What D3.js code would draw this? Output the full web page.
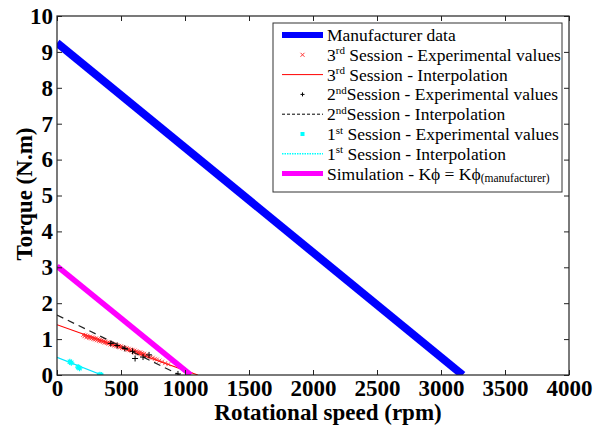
<!DOCTYPE html>
<html>
<head>
<meta charset="utf-8">
<script src="https://cdn.jsdelivr.net/npm/d3@7"></script>
<style>
  html, body { margin: 0; padding: 0; background: #fff; }
  svg { display: block; }
</style>
</head>
<body>
<svg id="chart" width="593" height="427"></svg>
<script>
// Torque vs. rotational speed: manufacturer line, simulation, and three test sessions.
const xTicks = [0, 500, 1000, 1500, 2000, 2500, 3000, 3500, 4000];
const yTicks = [0, 1, 2, 3, 4, 5, 6, 7, 8, 9, 10];

// straight characteristics as [rpm, torque] end points
const manufacturerLine = [[0, 9.25], [3170, 0]];
const simulationLine = [[0, 3.03], [1045, 0]];
const session3Fit = [[0, 1.40], [1100, 0]];
const session2Fit = [[0, 1.67], [960, 0]];
const session1Fit = [[0, 0.49], [350, 0]];

// measured points [rpm, torque]
const session3Points = [
  [205,1.12],[215,1.08],[222,1.11],[230,1.05],[238,1.09],[245,1.06],[252,1.03],[260,1.07],
  [268,1.02],[275,1.05],[283,1.00],[290,1.03],[298,0.99],[305,1.02],[312,0.97],[320,1.00],
  [328,0.95],[335,0.98],[342,0.94],[350,0.97],[358,0.92],[365,0.95],[372,0.90],[380,0.93],
  [388,0.89],[395,0.91],[402,0.87],[410,0.90],[418,0.85],[425,0.88],[432,0.84],[440,0.86],
  [448,0.82],[455,0.85],[462,0.80],[470,0.83],[478,0.79],[485,0.81],[492,0.77],[500,0.80],
  [508,0.75],[515,0.78],[522,0.74],[530,0.76],[538,0.72],[545,0.75],[552,0.70],[560,0.73],
  [568,0.69],[575,0.71],[582,0.67],[590,0.70],[598,0.65],[605,0.68],[612,0.63],[620,0.66],
  [628,0.62],[635,0.64],[642,0.60],[650,0.63],[658,0.58],[665,0.61],[672,0.57],[680,0.59],
  [690,0.55],[700,0.56],[715,0.52],[730,0.50],[748,0.48],[765,0.45],[780,0.43],[800,0.40],
  [820,0.37],[845,0.33],[870,0.30],[1010,0.02],[1040,0.01]
];
const session2Points = [
  [420,0.88],[470,0.82],[530,0.74],[590,0.66],[610,0.46],[672,0.50],[719,0.56],[945,0.03]
];
const session1Points = [
  [100,0.37],[112,0.34],[165,0.22],[176,0.19],[335,0.01],[345,0.00]
];

const legendItems = [
  { kind: "line", color: "#0000ff", width: 6, dash: null,
    label: [["Manufacturer data"]] },
  { kind: "x", color: "#ff3333",
    label: [["3"], ["rd", "sup"], [" Session - Experimental values"]] },
  { kind: "line", color: "#ff0000", width: 1, dash: null,
    label: [["3"], ["rd", "sup"], [" Session - Interpolation"]] },
  { kind: "plus", color: "#000000",
    label: [["2"], ["nd", "sup"], ["Session - Experimental values"]] },
  { kind: "line", color: "#000000", width: 1, dash: "3,2",
    label: [["2"], ["nd", "sup"], ["Session - Interpolation"]] },
  { kind: "square", color: "#00ffff",
    label: [["1"], ["st", "sup"], [" Session - Experimental values"]] },
  { kind: "line", color: "#00ffff", width: 1.5, dash: "1.5,1",
    label: [["1"], ["st", "sup"], [" Session - Interpolation"]] },
  { kind: "line", color: "#ff00ff", width: 5, dash: null,
    label: [["Simulation - K\u03d5 = K\u03d5"], ["(manufacturer)", "sub"]] }
];

const serif = "Liberation Serif";
const svg = d3.select("#chart");
const margin = { left: 57, right: 24, top: 16, bottom: 52 };
const W = 593, H = 427;

const x = d3.scaleLinear().domain([0, 4000]).range([margin.left, W - margin.right]);
const y = d3.scaleLinear().domain([0, 10]).range([H - margin.bottom, margin.top]);

svg.append("defs").append("clipPath").attr("id", "plotClip")
  .append("rect")
  .attr("x", x(0)).attr("y", y(10))
  .attr("width", x(4000) - x(0)).attr("height", y(0) - y(10));

const line = d3.line().x(d => x(d[0])).y(d => y(d[1]));
const plot = svg.append("g").attr("clip-path", "url(#plotClip)");

plot.append("path").datum(manufacturerLine).attr("d", line)
  .attr("fill", "none").attr("stroke", "#0000ff").attr("stroke-width", 8);

plot.append("path").datum(session1Fit).attr("d", line)
  .attr("fill", "none").attr("stroke", "#00e5ff").attr("stroke-width", 1.2);

plot.append("path").datum(session3Fit).attr("d", line)
  .attr("fill", "none").attr("stroke", "#ff0000").attr("stroke-width", 1.1);

// session 3 markers
const xs = 2;
plot.append("g").selectAll("path").data(session3Points).join("path")
  .attr("d", d => `M${x(d[0]) - xs},${y(d[1]) - xs}L${x(d[0]) + xs},${y(d[1]) + xs}M${x(d[0]) - xs},${y(d[1]) + xs}L${x(d[0]) + xs},${y(d[1]) - xs}`)
  .attr("stroke", "#ff2020").attr("stroke-width", 0.9).attr("stroke-opacity", 0.85);

plot.append("path").datum(session2Fit).attr("d", line)
  .attr("fill", "none").attr("stroke", "#222").attr("stroke-width", 1.2)
  .attr("stroke-dasharray", "7,5");

const ps = 3;
plot.append("g").selectAll("path").data(session2Points).join("path")
  .attr("d", d => `M${x(d[0]) - ps},${y(d[1])}H${x(d[0]) + ps}M${x(d[0])},${y(d[1]) - ps}V${y(d[1]) + ps}`)
  .attr("stroke", "#000").attr("stroke-width", 1);

// session 1 asterisks
const as = 3;
plot.append("g").selectAll("path").data(session1Points).join("path")
  .attr("d", d => {
    const cx = x(d[0]), cy = y(d[1]);
    return `M${cx - as},${cy}H${cx + as}M${cx},${cy - as}V${cy + as}` +
      `M${cx - as * 0.7},${cy - as * 0.7}L${cx + as * 0.7},${cy + as * 0.7}` +
      `M${cx - as * 0.7},${cy + as * 0.7}L${cx + as * 0.7},${cy - as * 0.7}`;
  })
  .attr("stroke", "#00ffff").attr("stroke-width", 1.2);

plot.append("path").datum(simulationLine).attr("d", line)
  .attr("fill", "none").attr("stroke", "#ff00ff").attr("stroke-width", 5.5);

// axes: ticks point inward on all four sides
const tickFont = g => g.selectAll("text")
  .attr("font-family", serif)
  .attr("font-size", 23).attr("font-weight", "bold").attr("fill", "#000");
const axisStyle = g => {
  g.attr("font-family", serif);
  g.select(".domain").remove();
  g.selectAll("line").attr("stroke", "#222").attr("stroke-width", 1);
};
const fmt = d3.format("d");

svg.append("g").attr("transform", `translate(0,${y(0)})`)
  .call(d3.axisBottom(x).tickValues(xTicks).tickFormat(fmt).tickSizeInner(-5).tickSizeOuter(0).tickPadding(5))
  .call(axisStyle).call(tickFont);
svg.append("g").attr("transform", `translate(0,${y(10)})`)
  .call(d3.axisTop(x).tickValues(xTicks).tickSizeInner(-5).tickSizeOuter(0).tickFormat(""))
  .call(axisStyle);
svg.append("g").attr("transform", `translate(${x(0)},0)`)
  .call(d3.axisLeft(y).tickValues(yTicks).tickFormat(fmt).tickSizeInner(-5).tickSizeOuter(0).tickPadding(4))
  .call(axisStyle).call(tickFont);
svg.append("g").attr("transform", `translate(${x(4000)},0)`)
  .call(d3.axisRight(y).tickValues(yTicks).tickSizeInner(-5).tickSizeOuter(0).tickFormat(""))
  .call(axisStyle);

svg.append("rect")
  .attr("x", x(0)).attr("y", y(10))
  .attr("width", x(4000) - x(0)).attr("height", y(0) - y(10))
  .attr("fill", "none").attr("stroke", "#222").attr("stroke-width", 1.2);

// axis titles
svg.append("text")
  .attr("x", 328).attr("y", 420)
  .attr("text-anchor", "middle").attr("font-family", serif)
  .attr("font-size", 23).attr("font-weight", "bold")
  .text("Rotational speed (rpm)");
svg.append("text")
  .attr("transform", `translate(32,194) rotate(-90)`)
  .attr("text-anchor", "middle").attr("font-family", serif)
  .attr("font-size", 23).attr("font-weight", "bold")
  .text("Torque (N.m)");

// legend
const lg = svg.append("g");
const lgX = 273, lgY = 23, lgW = 289, lgH = 169;
lg.append("rect").attr("x", lgX).attr("y", lgY).attr("width", lgW).attr("height", lgH)
  .attr("fill", "#fff").attr("stroke", "#333").attr("stroke-width", 1);

const rowY = i => 35 + i * 19.8;
const sampleX0 = 282, sampleX1 = 323, textX = 327;

legendItems.forEach((item, i) => {
  const cy = rowY(i);
  const cx = (sampleX0 + sampleX1) / 2;
  if (item.kind === "line") {
    lg.append("line").attr("x1", sampleX0).attr("x2", sampleX1).attr("y1", cy).attr("y2", cy)
      .attr("stroke", item.color).attr("stroke-width", item.width)
      .attr("stroke-dasharray", item.dash);
  } else if (item.kind === "x") {
    lg.append("path")
      .attr("d", `M${cx - 2},${cy - 2}L${cx + 2},${cy + 2}M${cx - 2},${cy + 2}L${cx + 2},${cy - 2}`)
      .attr("stroke", item.color).attr("stroke-width", 1);
  } else if (item.kind === "plus") {
    lg.append("path")
      .attr("d", `M${cx - 2},${cy}H${cx + 2}M${cx},${cy - 2}V${cy + 2}`)
      .attr("stroke", item.color).attr("stroke-width", 1);
  } else if (item.kind === "square") {
    lg.append("rect").attr("x", cx - 2).attr("y", cy - 2).attr("width", 4).attr("height", 4)
      .attr("fill", item.color);
  }
  const t = lg.append("text").attr("x", textX).attr("y", cy + 6)
    .attr("font-family", serif).attr("font-size", 17.5).attr("fill", "#000");
  let shift = 0;
  item.label.forEach(([s, mode]) => {
    const ts = t.append("tspan").text(s);
    if (mode === "sup") {
      ts.attr("font-size", 11).attr("dy", -6.5 - shift); shift = -6.5;
    } else if (mode === "sub") {
      ts.attr("font-size", 11.5).attr("dy", 2 - shift); shift = 2;
    } else {
      ts.attr("dy", -shift); shift = 0;
    }
  });
});
</script>
</body>
</html>
